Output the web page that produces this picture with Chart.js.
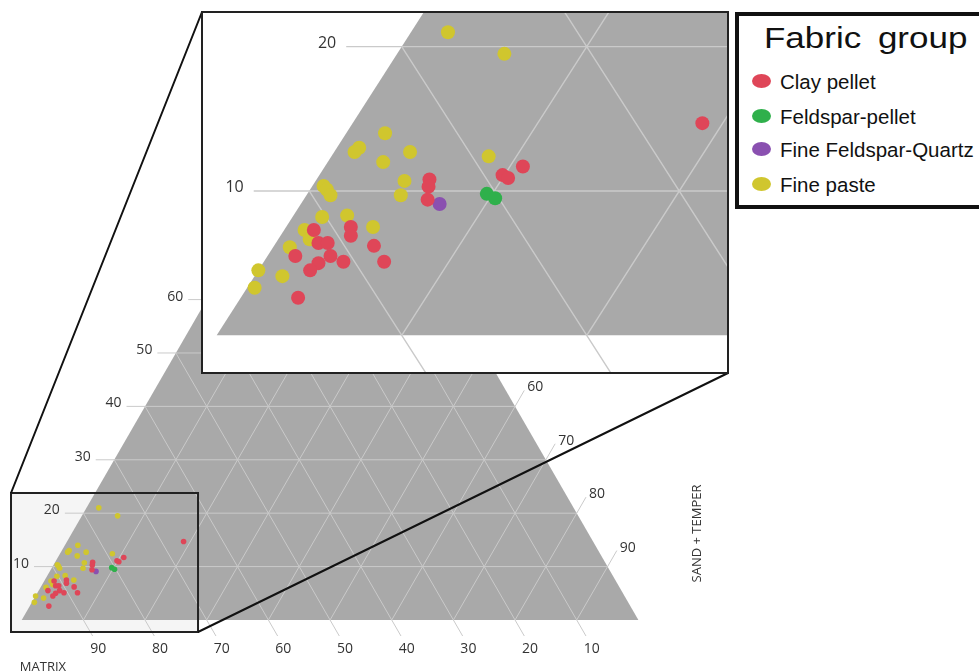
<!DOCTYPE html>
<html>
<head>
<meta charset="utf-8">
<script src="https://cdn.jsdelivr.net/npm/chart.js@4.4.1/dist/chart.umd.min.js"></script>
<style>
  html, body { margin: 0; padding: 0; background: #fff; overflow: hidden; }
  #wrap { position: relative; width: 979px; height: 672px; overflow: hidden; }
  #mainChart { position: absolute; left: 0; top: 0; }
  #zoomChart { position: absolute; left: 201px; top: 11px; }
  #legendBox { position: absolute; left: 735px; top: 12px; width: 280px; height: 197px;
               border: 4px solid #111; box-sizing: border-box; background: #fff; }
  .lg { position: absolute; font-family: "Liberation Sans", Arial, sans-serif; color: #111;
        white-space: nowrap; line-height: 1; }
  .dot { position: absolute; width: 19px; height: 14px; border-radius: 50%; }
</style>
</head>
<body>
<div id="wrap">
  <canvas id="mainChart" width="979" height="672"></canvas>
  <canvas id="zoomChart" width="528" height="363"></canvas>
  <div id="legendBox"></div>
  <div id="legend"></div>
</div>
<script>
// fabric groups
const groupNames = ["Clay pellet", "Feldspar-pellet", "Fine Feldspar-Quartz", "Fine paste"];
const groupColors = ["#df4658", "#2fb04b", "#8a50b0", "#d0c62e"];

// per sample: % sand + temper and % of the top component (matrix is what is left)
const clayPelletSand  = [6.1, 6.3, 6.7, 1.6, 3.5, 3.8, 2.3, 2.8, 1.5, 3.4, 3.0, 2.8, 4.3, 5.4, 6.5, 3.1, 10.7, 9.9, 10.3, 18.9];
const clayPelletTop   = [10.8, 10.3, 9.4, 7.3, 7.5, 6.9, 6.4, 6.4, 5.5, 5.5, 5.0, 4.5, 5.1, 6.2, 5.1, 2.6, 11.7, 11.1, 10.9, 14.7];
const feldsparSand    = [9.7, 10.3];
const feldsparTop     = [9.8, 9.5];
const fineQuartzSand  = [7.5];
const fineQuartzTop   = [9.1];
const finePasteSand   = [2.0, 2.1, 1.2, 1.1, 4.1, 3.0, 4.8, 5.1, 0.6, 0.9, 1.3, 1.6, 2.9, 4.7, 1.1, 1.7, 0.9, 0.0, 1.5, 0.4, 5.8, 8.5];
const finePasteTop    = [21.0, 14.0, 13.0, 12.7, 12.7, 12.0, 10.7, 9.7, 10.35, 10.1, 9.7, 8.2, 8.3, 7.5, 7.3, 6.65, 6.1, 4.5, 4.1, 3.3, 19.5, 12.4];

// tick labels
const gridSteps   = [10, 20, 30, 40, 50, 60, 70, 80, 90];
const matrixTicks = [90, 80, 70, 60, 50, 40, 30, 20, 10];
const topTicks    = [10, 20, 30, 40, 50, 60];
const sandTicks   = [60, 70, 80, 90];
const zoomTopTicks = [10, 20];

const groupSand = [clayPelletSand, feldsparSand, fineQuartzSand, finePasteSand];
const groupTop  = [clayPelletTop, feldsparTop, fineQuartzTop, finePasteTop];

// ternary -> plane: x along the base, y = top component
function tern(sand, top) {
  return { x: sand + top / 2, y: top };
}

function gridLines() {
  const gap = { x: null, y: null };
  const pts = [];
  gridSteps.forEach(v => {
    // constant top value, with a tick past the left edge
    pts.push({ x: v / 2 - 3, y: v }, { x: 100 - v / 2, y: v }, gap);
    // constant matrix, running on below the base
    pts.push({ x: v / 2, y: v }, { x: v + 1.5, y: -3 }, gap);
    // constant sand, running on past the right edge
    pts.push({ x: v, y: 0 }, { x: v + (103 - v) / 2, y: 103 - v }, gap);
  });
  return pts;
}

// view of the main chart and of the enlarged part
const mainView = { x: [-3.52, 155.23], y: [-9.74, 116.10] };
const zoomView = { x: [-0.849, 27.69], y: [-2.68, 22.47] };
const zoomBox = { x0: -1.735, x1: 28.59, y0: -2.25, y1: 23.78 };

const ternaryLabels = {
  id: 'ternaryLabels',
  beforeDraw(chart, args, o) {
    const { ctx, scales: { x, y } } = chart;
    ctx.save();
    if (o.box) {
      ctx.fillStyle = '#f5f5f5';
      const l = x.getPixelForValue(o.box.x0), r = x.getPixelForValue(o.box.x1);
      const t = y.getPixelForValue(o.box.y1), b = y.getPixelForValue(o.box.y0);
      ctx.fillRect(l, t, r - l, b - t);
    } else {
      ctx.fillStyle = '#fff';
      ctx.fillRect(0, 0, chart.width, chart.height);
    }
    ctx.restore();
  },
  afterDatasetsDraw(chart, args, o) {
    const { ctx, scales: { x, y } } = chart;
    ctx.save();
    ctx.fillStyle = '#333';
    ctx.font = o.size + 'px "Open Sans"';
    ctx.textBaseline = 'alphabetic';

    ctx.textAlign = 'right';
    o.topTicks.forEach(v => {
      ctx.fillText(String(v), x.getPixelForValue(v / 2 - 3) - o.gap, y.getPixelForValue(v) + 1);
    });

    if (o.full) {
      ctx.textAlign = 'center';
      matrixTicks.forEach(m => {
        ctx.fillText(String(m), x.getPixelForValue(100 - m + 2.43), y.getPixelForValue(-6.2));
      });
      ctx.textAlign = 'left';
      sandTicks.forEach(s => {
        const p = 103 - s;
        ctx.fillText(String(s), x.getPixelForValue(s + p / 2) + 3, y.getPixelForValue(p) + 1);
      });

      ctx.font = '13px "Open Sans"';
      ctx.textAlign = 'left';
      ctx.fillText('MATRIX', x.getPixelForValue(-0.3), y.getPixelForValue(-9.6));
      ctx.save();
      ctx.translate(x.getPixelForValue(110.1), y.getPixelForValue(16.2));
      ctx.rotate(-Math.PI / 2);
      ctx.textAlign = 'center';
      ctx.fillText('SAND + TEMPER', 0, 0);
      ctx.restore();

      // frame round the enlarged part and the lines to the inset
      const l = x.getPixelForValue(o.box.x0), r = x.getPixelForValue(o.box.x1);
      const t = y.getPixelForValue(o.box.y1), b = y.getPixelForValue(o.box.y0);
      ctx.strokeStyle = '#222';
      ctx.lineWidth = 2;
      ctx.strokeRect(l, t, r - l, b - t);
      ctx.strokeStyle = '#111';
      ctx.beginPath();
      ctx.moveTo(l, t); ctx.lineTo(202, 12);
      ctx.moveTo(r, b); ctx.lineTo(728, 373);
      ctx.stroke();
    } else {
      ctx.strokeStyle = '#222';
      ctx.lineWidth = 2;
      ctx.strokeRect(1, 1, chart.width - 2, chart.height - 2);
    }
    ctx.restore();
  }
};

function buildChart(canvas, view, style) {
  const datasets = groupNames.map((name, i) => ({
    label: name,
    data: groupSand[i].map((s, k) => tern(s, groupTop[i][k])),
    showLine: false,
    pointRadius: style.r,
    pointBackgroundColor: groupColors[i],
    pointBorderColor: groupColors[i],
    pointBorderWidth: 0,
    order: 0
  }));
  datasets.push({
    label: 'grid',
    data: gridLines(),
    borderColor: '#cacaca',
    borderWidth: style.gridWidth,
    pointRadius: 0,
    spanGaps: false,
    fill: false,
    order: 1
  });
  datasets.push({
    label: 'field',
    // corners: matrix, sand + temper, top
    data: [tern(0, 0), tern(100, 0), tern(0, 100)],
    borderWidth: 0,
    pointRadius: 0,
    fill: 'shape',
    backgroundColor: '#a9a9a9',
    order: 2
  });

  return new Chart(canvas, {
    type: 'line',
    data: { datasets: datasets },
    options: {
      responsive: false,
      animation: false,
      events: [],
      layout: { padding: 0, autoPadding: false },
      plugins: {
        legend: { display: false },
        tooltip: { enabled: false },
        ternaryLabels: style.labels
      },
      scales: {
        x: { type: 'linear', min: view.x[0], max: view.x[1], display: false },
        y: { type: 'linear', min: view.y[0], max: view.y[1], display: false }
      }
    },
    plugins: [ternaryLabels]
  });
}

buildChart(document.getElementById('mainChart'), mainView, {
  r: 2.8, gridWidth: 1,
  labels: { size: 14, gap: 5, topTicks: topTicks, full: true, box: zoomBox }
});
buildChart(document.getElementById('zoomChart'), zoomView, {
  r: 7, gridWidth: 1.4,
  labels: { size: 16, gap: 10, topTicks: zoomTopTicks, full: false, box: null }
});

// legend
const legend = document.getElementById('legend');
const title = document.createElement('div');
title.className = 'lg';
title.textContent = 'Fabric group';
title.style.cssText = 'left:764px;top:23px;font-size:30px;word-spacing:6px;transform:scaleX(1.166);transform-origin:left center;';
legend.appendChild(title);
const rowY = [81, 116, 149, 184];
groupNames.forEach((name, i) => {
  const dot = document.createElement('div');
  dot.className = 'dot';
  dot.style.cssText = `left:${761 - 9.5}px;top:${rowY[i] - 7}px;background:${groupColors[i]};`;
  legend.appendChild(dot);
  const t = document.createElement('div');
  t.className = 'lg';
  t.textContent = name;
  t.style.cssText = `left:780px;top:${rowY[i] + 8.5 - 17.4}px;font-size:20.5px;`;
  legend.appendChild(t);
});
</script>
</body>
</html>
